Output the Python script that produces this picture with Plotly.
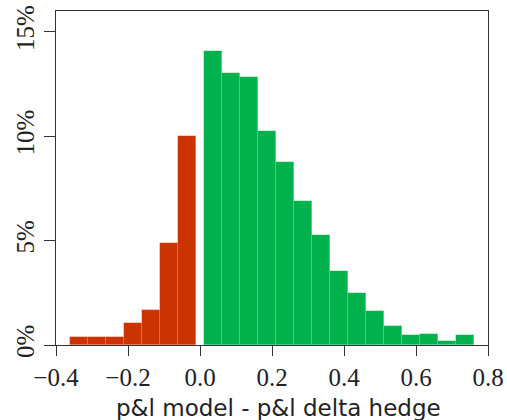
import plotly.graph_objects as go

# bin centres (bin width 0.05)
neg_centers = [-0.335, -0.285, -0.235, -0.185, -0.135, -0.085, -0.035]
neg_pct = [0.0037, 0.0037, 0.0037, 0.0107, 0.0170, 0.0490, 0.1001]

pos_centers = [0.035, 0.085, 0.135, 0.185, 0.235, 0.285, 0.335, 0.385,
               0.435, 0.485, 0.535, 0.585, 0.635, 0.685, 0.735]
pos_pct = [0.1410, 0.1302, 0.1286, 0.1023, 0.0877, 0.0689, 0.0527, 0.0356,
           0.0248, 0.0162, 0.0092, 0.0046, 0.0053, 0.0021, 0.0046]

x_ticks = [-0.4, -0.2, 0.0, 0.2, 0.4, 0.6, 0.8]
x_tick_labels = ["\u22120.4", "\u22120.2", "0.0", "0.2", "0.4", "0.6", "0.8"]
y_ticks = [0, 0.05, 0.10, 0.15]
y_tick_labels = ["0%", "5%", "10%", "15%"]
x_title = "p&l model - p&l delta hedge"

BIN_W = 0.05
line_style = dict(color="rgba(255,255,255,0.15)", width=0.6)

fig = go.Figure()
fig.add_trace(go.Bar(x=neg_centers, y=neg_pct, width=[BIN_W] * len(neg_centers),
                     marker=dict(color="#CC3300", line=line_style),
                     showlegend=False, hoverinfo="skip"))
fig.add_trace(go.Bar(x=pos_centers, y=pos_pct, width=[BIN_W] * len(pos_centers),
                     marker=dict(color="#00B24C", line=line_style),
                     showlegend=False, hoverinfo="skip"))

serif = "Liberation Serif"
fig.update_layout(
    width=507, height=420,
    margin=dict(l=56, r=19, t=11, b=75),
    plot_bgcolor="white", paper_bgcolor="white",
    bargap=0,
    xaxis=dict(
        range=[-0.4, 0.8], tickmode="array", tickvals=x_ticks, ticktext=x_tick_labels,
        ticks="outside", ticklen=10, tickwidth=1, tickcolor="#333",
        showline=True, linecolor="#333", linewidth=1, mirror=True,
        showgrid=False, zeroline=False, automargin=False, ticklabeloverflow="allow",
        tickfont=dict(family=serif, size=25, color="#222"),
    ),
    yaxis=dict(
        range=[0, 0.16], tickmode="array", tickvals=y_ticks, ticktext=y_tick_labels,
        ticks="outside", ticklen=11, tickwidth=1, tickcolor="#333",
        showline=True, linecolor="#333", linewidth=1, mirror=True,
        showgrid=False, zeroline=False, tickangle=-90, automargin=False,
        ticklabeloverflow="allow",
        tickfont=dict(family=serif, size=25, color="#222"),
    ),
    annotations=[dict(
        text=x_title, xref="paper", yref="paper", x=0.515, y=-0.143,
        xanchor="center", yanchor="top", showarrow=False,
        font=dict(family="DejaVu Sans", size=23, color="#222"),
    )],
)

fig.write_html("out.html", config={"displayModeBar": False},
               post_script="document.body.style.margin='0';")
